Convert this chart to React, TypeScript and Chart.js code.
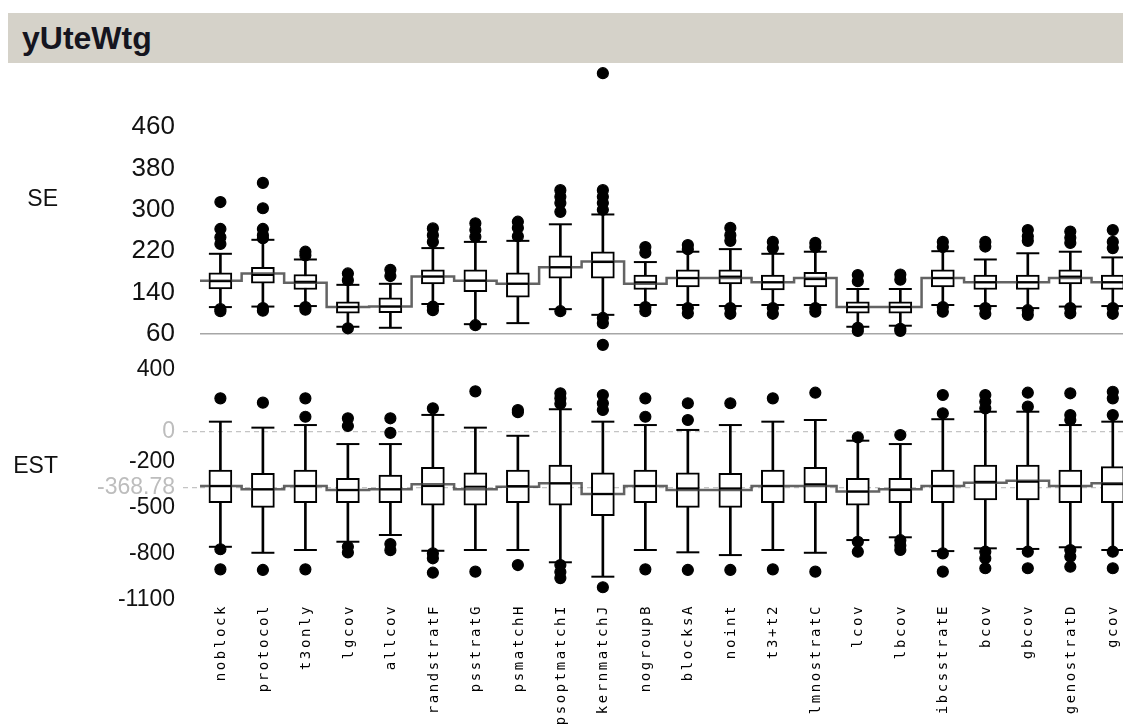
import React, { useEffect, useRef } from 'react';
import { Chart, registerables } from 'chart.js';

Chart.register(...registerables);

const categories = ['noblock', 'protocol', 't3only', 'lgcov', 'allcov', 'randstratF', 'psstratG', 'psmatchH', 'psoptmatchI', 'kernmatchJ', 'nogroupB', 'blocksA', 'noint', 't3+t2', 'lmnostratC', 'lcov', 'lbcov', 'ibcsstratE', 'bcov', 'gbcov', 'genostratD', 'gcov'];

// SE panel
const seLow = [112, 113, 114, 74, 72, 118, 79, 81, 108, 97, 116, 116, 114, 116, 116, 74, 76, 116, 114, 110, 113, 114];
const seQ1 = [147, 158, 146, 100, 101, 157, 142, 131, 168, 168, 146, 151, 157, 145, 151, 100, 100, 151, 146, 146, 157, 146];
const seMed = [162, 174, 161, 112, 113, 171, 163, 157, 189, 199, 160, 168, 171, 160, 166, 112, 112, 168, 160, 160, 171, 160];
const seQ3 = [178, 189, 175, 122, 130, 184, 184, 178, 211, 219, 174, 184, 184, 174, 179, 122, 122, 184, 174, 174, 184, 174];
const seHigh = [215, 242, 204, 155, 157, 226, 238, 240, 272, 291, 199, 219, 224, 215, 219, 147, 147, 220, 204, 216, 219, 208];
const seMean = [163, 177, 159, 112, 113, 171, 163, 157, 189, 200, 157, 168, 168, 160, 168, 112, 112, 168, 160, 160, 168, 160];
const seOutliers = [
  [315, 263, 247, 234, 108, 104],
  [352, 303, 263, 251, 245, 110, 105],
  [219, 212, 112, 107],
  [177, 164, 71],
  [184, 172],
  [264, 251, 238, 113, 106],
  [274, 261, 248, 77],
  [277, 265, 249],
  [338, 325, 313, 296, 104],
  [564, 338, 325, 313, 300, 91, 81, 39],
  [228, 217, 112, 104],
  [232, 224, 110, 100],
  [265, 251, 240, 110, 99],
  [238, 226, 110, 99],
  [236, 228, 110, 103],
  [174, 162, 72, 66],
  [175, 165, 70, 66],
  [238, 228, 112, 103],
  [238, 229, 110, 99],
  [261, 249, 240, 106, 97],
  [258, 246, 236, 110, 100],
  [261, 238, 226, 110, 99],
];

// EST panel
const estLow = [-753, -792, -774, -720, -676, -779, -774, -774, -854, -948, -774, -789, -807, -774, -792, -709, -691, -781, -763, -767, -756, -774];
const estQ1 = [-466, -496, -466, -466, -466, -481, -481, -466, -481, -550, -466, -496, -496, -466, -466, -481, -466, -466, -448, -448, -466, -466];
const estMed = [-357, -378, -357, -383, -378, -357, -361, -357, -339, -409, -357, -372, -372, -357, -345, -393, -383, -357, -329, -329, -357, -345];
const estQ3 = [-252, -274, -252, -306, -285, -235, -270, -252, -220, -270, -252, -270, -274, -252, -235, -306, -306, -252, -220, -220, -252, -230];
const estHigh = [63, 24, 41, -83, -83, 107, 24, -29, 144, 63, 41, 9, 41, 63, 74, -61, -83, 79, 128, 128, 41, 63];
const estMean = [-357, -378, -357, -383, -378, -345, -378, -361, -339, -409, -357, -383, -383, -357, -357, -393, -378, -357, -335, -322, -357, -339];
const estOutliers = [
  [215, -769, -900],
  [187, -904],
  [215, 95, -900],
  [85, 35, -753, -790],
  [85, -10, -735, -775],
  [150, -796, -828, -922],
  [261, -915],
  [139, 125, -872],
  [248, 215, 180, -872, -917, -957],
  [237, 183, 139, -1017],
  [215, 95, -900],
  [183, 74, -904],
  [183, -904],
  [215, -900],
  [252, -915],
  [-39, -720, -785],
  [-24, -710, -745, -774],
  [237, 118, -796, -915],
  [237, 193, 150, -785, -828, -893],
  [252, 161, -785, -893],
  [248, 106, 74, -774, -817, -883],
  [258, 215, 106, -785, -893],
];

const seTicks = [460, 380, 300, 220, 140, 60];
const estTicks = [400, 0, -200, -368.78, -500, -800, -1100];
const seRefLines = [60];
const estRefLines = [0, -368.78];

const FONT = '"Liberation Sans", Arial, Helvetica, sans-serif';
const MONO = '"DejaVu Sans Mono", "Liberation Mono", monospace';
const X_MIN = -0.48;
const X_MAX = 21.24;
const AXIS_W = 192;

function boxDatasets(low: number[], q1: number[], med: number[], q3: number[], high: number[], mean: number[], outliers: number[][]) {
  const idx = categories.map((_, i) => i);
  return [
    {
      type: 'line', label: 'outliers',
      data: outliers.flatMap((arr, i) => arr.map((v) => ({ x: i, y: v }))),
      showLine: false, pointRadius: 5.5, pointBorderWidth: 1.2,
      pointBackgroundColor: '#000', pointBorderColor: '#000', order: 0, clip: false,
    },
    {
      type: 'line', label: 'caps',
      data: [...idx.map((i) => ({ x: i, y: low[i] })), ...idx.map((i) => ({ x: i, y: high[i] }))],
      showLine: false, pointStyle: 'line', pointRadius: 11.5, pointBorderWidth: 2,
      pointBorderColor: '#000', pointBackgroundColor: '#000', order: 1,
    },
    {
      type: 'line', label: 'median',
      data: idx.map((i) => ({ x: i, y: med[i] })),
      showLine: false, pointStyle: 'line', pointRadius: 11, pointBorderWidth: 2,
      pointBorderColor: '#000', pointBackgroundColor: '#000', order: 2,
    },
    {
      type: 'line', label: 'mean',
      data: idx.flatMap((i) => [{ x: i - 0.5, y: mean[i] }, { x: i + 0.5, y: mean[i] }]),
      borderColor: 'rgba(60,60,60,0.8)', borderWidth: 2.5, pointRadius: 0, tension: 0, order: 3,
    },
    {
      type: 'bar', label: 'box',
      data: idx.map((i) => ({ x: i, y: [q1[i], q3[i]] })),
      backgroundColor: '#fff', borderColor: '#000', borderWidth: 2, borderSkipped: false,
      barThickness: 23, grouped: false, order: 4,
    },
    {
      type: 'bar', label: 'whisker',
      data: idx.map((i) => ({ x: i, y: [low[i], high[i]] })),
      backgroundColor: '#000', borderWidth: 0, barThickness: 2, grouped: false, order: 5,
    },
  ];
}

function yAxis(ticks: number[], refs: number[], min: number, max: number, fontSize: number, dashed: boolean) {
  return {
    type: 'linear', position: 'left', min, max,
    afterBuildTicks: (s: any) => { s.ticks = ticks.map((v) => ({ value: v })); },
    afterFit: (s: any) => { s.width = AXIS_W; s.paddingTop = 0; s.paddingBottom = 0; },
    ticks: {
      autoSkip: false, padding: 8,
      font: { family: FONT, size: fontSize },
      color: (c: any) => (dashed && refs.includes(c.tick?.value) ? '#bdbdbd' : '#111'),
      callback: (v: any) => String(v),
    },
    grid: {
      color: (c: any) => (refs.includes(c.tick?.value) ? (dashed ? '#c4c4c4' : '#a6a6a6') : 'rgba(0,0,0,0)'),
      lineWidth: dashed ? 1.2 : 1.5,
      drawTicks: true, tickLength: 17,
      tickColor: (c: any) => (dashed && refs.includes(c.tick?.value) ? '#c4c4c4' : 'rgba(0,0,0,0)'),
      tickBorderDash: dashed ? [5, 4] : [],
    },
    border: { display: false, dash: dashed ? [5, 4] : [] },
  };
}

const xAxis = { type: 'linear', min: X_MIN, max: X_MAX, offset: false, display: false, grid: { offset: false } };

function sideLabel(text: string, y: number) {
  return {
    id: 'side' + text,
    afterDraw(chart: any) {
      const ctx = chart.ctx;
      ctx.save();
      ctx.font = `23px ${FONT}`;
      ctx.fillStyle = '#111';
      ctx.textAlign = 'right';
      ctx.textBaseline = 'middle';
      ctx.fillText(text, 50, y);
      ctx.restore();
    },
  };
}

const xLabelPlugin = {
  id: 'xLabels',
  afterDraw(chart: any) {
    const { ctx, chartArea, scales } = chart;
    ctx.save();
    ctx.font = `14px ${MONO}`;
    ctx.fillStyle = '#000';
    ctx.textAlign = 'right';
    ctx.textBaseline = 'middle';
    (ctx as any).letterSpacing = '2.6px';
    categories.forEach((c, i) => {
      const x = scales.x.getPixelForValue(i);
      ctx.save();
      ctx.translate(x + 1, chartArea.bottom + 4);
      ctx.rotate(-Math.PI / 2);
      ctx.fillText(c, 0, 0);
      ctx.restore();
    });
    ctx.restore();
  },
};

export default function App() {
  const seRef = useRef<HTMLCanvasElement>(null);
  const estRef = useRef<HTMLCanvasElement>(null);

  useEffect(() => {
    document.documentElement.style.overflow = 'hidden';
    document.body.style.overflow = 'visible';
    const rootEl = document.getElementById('root');
    if (rootEl) rootEl.style.overflow = 'visible';
    const common = {
      responsive: false, animation: false, events: [],
      plugins: { legend: { display: false }, tooltip: { enabled: false } },
    };
    const se = new Chart(seRef.current as HTMLCanvasElement, {
      type: 'bar',
      data: { datasets: boxDatasets(seLow, seQ1, seMed, seQ3, seHigh, seMean, seOutliers) as any },
      options: {
        ...common,
        layout: { autoPadding: false, padding: 0 },
        scales: { x: xAxis, y: yAxis(seTicks, seRefLines, 25.2, 583.7, 26, false) },
      } as any,
      plugins: [sideLabel('SE', 137)],
    });
    const est = new Chart(estRef.current as HTMLCanvasElement, {
      type: 'bar',
      data: { datasets: boxDatasets(estLow, estQ1, estMed, estQ3, estHigh, estMean, estOutliers) as any },
      options: {
        ...common,
        layout: { autoPadding: false, padding: { top: 0, left: 0, right: 0, bottom: 125 } },
        scales: { x: xAxis, y: yAxis(estTicks, estRefLines, -1100, 517.4, 23, true) },
      } as any,
      plugins: [sideLabel('EST', 115), xLabelPlugin],
    });
    return () => { se.destroy(); est.destroy(); };
  }, []);

  return (
    <div style={{ position: 'fixed', left: 0, top: 0, width: 1123, height: 725, overflow: 'hidden', background: '#fff' }}>
      <div style={{
        position: 'absolute', left: 8, top: 13, width: 1115, height: 50, background: '#d5d2c9',
        fontFamily: FONT, fontWeight: 'bold', fontSize: 32, lineHeight: '50px', paddingLeft: 14,
        boxSizing: 'border-box', color: '#151520',
      }}>yUteWtg</div>
      <canvas ref={seRef} width={1115} height={289} style={{ position: 'absolute', left: 8, top: 63, display: 'block' }} />
      <canvas ref={estRef} width={1115} height={373} style={{ position: 'absolute', left: 8, top: 352, display: 'block' }} />
    </div>
  );
}
